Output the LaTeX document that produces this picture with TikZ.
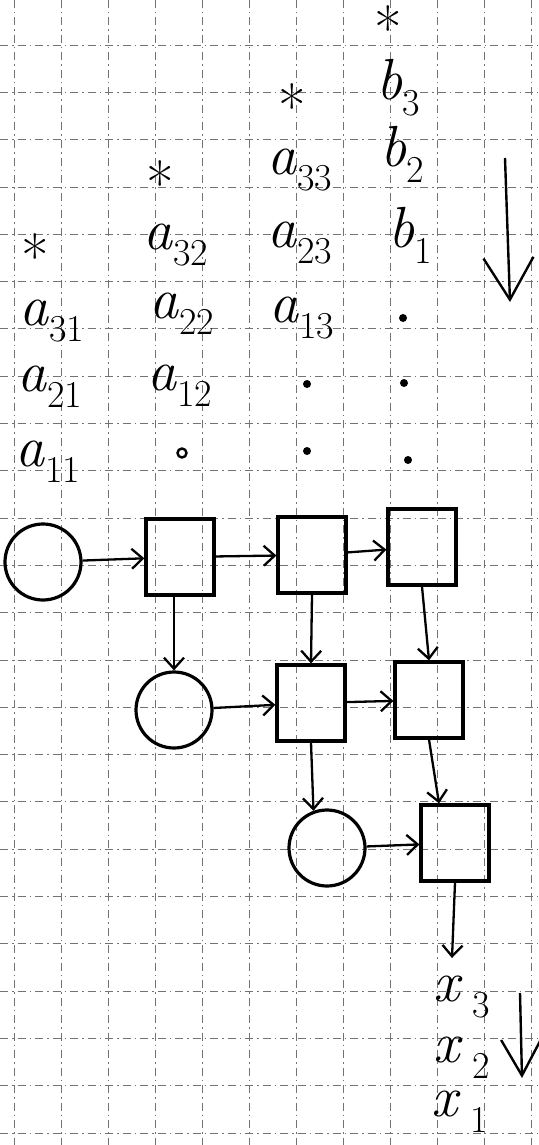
\documentclass[tikz,border=0pt]{standalone}
\usepackage{fontspec}
\usetikzlibrary{arrows.meta,calc}
\newcommand\lsub[1]{\raisebox{-0.28em}{\fontsize{38}{40}\selectfont #1}}
\newcommand\hv[2]{\textit{#1}\lsub{#2}}
\begin{document}
\begin{tikzpicture}[x=1pt,y=-1pt,
  gridline/.style={black!55, line width=0.7pt, dash pattern=on 8pt off 4pt on 1.5pt off 4pt},
  pe/.style={draw, line width=3.2pt, minimum width=68pt, minimum height=76pt, inner sep=0pt},
  src/.style={draw, circle, line width=3.2pt, minimum size=76pt, inner sep=0pt},
  flow/.style={line width=2.3pt, -{Straight Barb[length=11pt,width=20pt,line width=2.3pt]}},
  lab/.style={font=\fontsize{58}{60}\selectfont, inner sep=0pt},
  starlab/.style={font=\fontsize{60}{62}\selectfont, inner sep=0pt},
  pdot/.style={circle, fill, inner sep=0pt, minimum size=8pt},
  bigarrow/.style={line width=2.4pt, -{Straight Barb[length=42pt,width=50pt,line width=2.4pt]}}
]
\fill[white] (0,0) rectangle (538,1145);
\useasboundingbox (0,0) rectangle (538,1145);
% grid paper
\foreach \k in {0,...,11} \draw[gridline] ({14+47*\k},0) -- ({14+47*\k},1145);
\foreach \k in {0,...,23} \draw[gridline] (0,{45+47.3*\k}) -- (538,{45+47.3*\k});

% input b column
\node[starlab] (sb) at (388,28) {*};
\node[lab] (b3) at (398,88) {\hv{b}{3}};
\node[lab] (b2) at (402,154) {\hv{b}{2}};
\node[lab] (b1) at (410,235) {\hv{b}{1}};
\node[pdot] (d13) at (403,318) {};
\node[pdot] (d23) at (404,383) {};
\node[pdot] (d33) at (408,460) {};

% column 3
\node[starlab] (s3) at (292,106) {*};
\node[lab] (a33) at (300,170) {\hv{a}{33}};
\node[lab] (a23) at (300,243) {\hv{a}{23}};
\node[lab] (a13) at (302,318) {\hv{a}{13}};
\node[pdot] (d22) at (307,384) {};
\node[pdot] (d32) at (307,451) {};

% column 2
\node[starlab] (s2) at (160,183) {*};
\node[lab] (a32) at (176,245) {\hv{a}{32}};
\node[lab] (a22) at (182,314) {\hv{a}{22}};
\node[lab] (a12) at (180,386) {\hv{a}{12}};
\node[circle, draw, line width=2.4pt, inner sep=0pt, minimum size=9pt] (d21) at (182,453) {};

% column 1
\node[starlab] (s1) at (35,256) {*};
\node[lab] (a31) at (52,321) {\hv{a}{31}};
\node[lab] (a21) at (50,387) {\hv{a}{21}};
\node[lab] (a11) at (48,462) {\hv{a}{11}};

% array cells
\node[src] (c1) at (43,562) {};
\node[pe] (p11) at (180,557) {};
\node[pe] (p12) at (312,555) {};
\node[pe] (p13) at (422,547) {};
\node[src] (c2) at (174,710) {};
\node[pe] (p22) at (311,703) {};
\node[pe] (p23) at (429,700) {};
\node[src] (c3) at (327,848) {};
\node[pe] (p33) at (455,843) {};
\coordinate (out) at (452,958);

% connectors
\draw[flow] (c1) -- (p11);
\draw[flow] (p11) -- (p12);
\draw[flow] (p12) -- (p13);
\draw[flow] (c2) -- (p22);
\draw[flow] (p22) -- (p23);
\draw[flow] (c3) -- (p33);
\draw[flow] (p11.south -| c2.north) -- (c2.north);
\draw[flow] (p12.south) -- (p22.north);
\draw[flow] (p13.south) -- (p23.north);
\draw[flow] (p22.south) -- (c3.110);
\draw[flow] (p23.south) -- ($(p33.north)+(-16,0)$);
\draw[flow] (p33.south) -- (out);

% outputs
\node[lab] (x3) at (462,997) {\textit{x}\,\lsub{3}};
\node[lab] (x2) at (462,1058) {\textit{x}\,\lsub{2}};
\node[lab] (x1) at (460,1112) {\textit{x}\,\lsub{1}};

% direction arrows
\coordinate (ta) at (505,158);
\coordinate (tb) at (510,302);
\draw[bigarrow] (ta) -- (tb);
\coordinate (ba) at (520,993);
\coordinate (bb) at (522,1078);
\draw[line width=2.4pt, -{Straight Barb[length=36pt,width=40pt,line width=2.4pt]}] (ba) -- (bb);
\end{tikzpicture}
\end{document}
